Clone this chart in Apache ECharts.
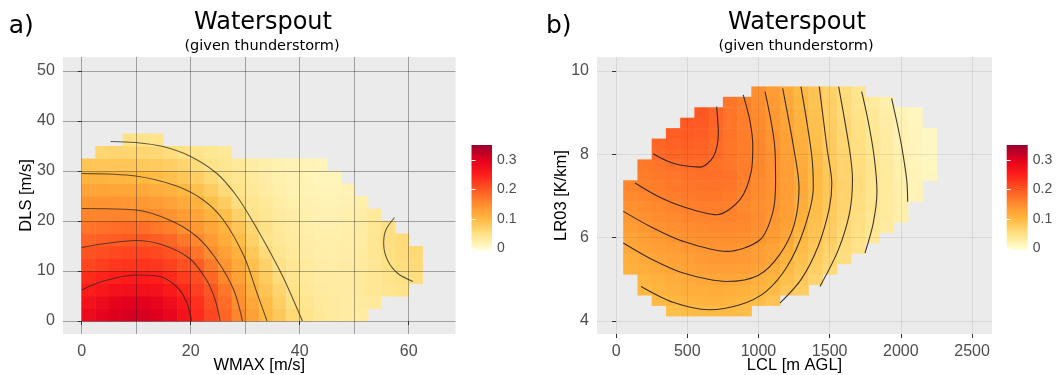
<!DOCTYPE html>
<html>
<head>
<meta charset="utf-8">
<script src="https://cdn.jsdelivr.net/npm/echarts@6/dist/echarts.min.js"></script>
<style>
  html, body { margin: 0; background: #fff; }
  #chart { width: 1060px; height: 375px; }
</style>
</head>
<body>
<div id="chart"></div>
<script>
const n = null;

// panel a: cell centres (WMAX, DLS) and probability
const wmaxCells = [1.25, 3.75, 6.25, 8.75, 11.25, 13.75, 16.25, 18.75, 21.25, 23.75, 26.25, 28.75, 31.25,
  33.75, 36.25, 38.75, 41.25, 43.75, 46.25, 48.75, 51.25, 53.75, 56.25, 58.75, 61.25];
const dlsCells = [1.25, 3.75, 6.25, 8.75, 11.25, 13.75, 16.25, 18.75, 21.25, 23.75, 26.25, 28.75, 31.25, 33.75, 36.25];
const probA = [
  [0.285,0.295,0.303,0.308,0.308,0.302,0.29,0.268,0.24,0.215,0.187,0.156,0.127,0.1,0.08,0.06,0.045,0.037,0.032,0.03,0.03,n,n,n,n],
  [0.27,0.282,0.293,0.298,0.298,0.292,0.278,0.258,0.234,0.208,0.18,0.148,0.118,0.094,0.072,0.053,0.042,0.035,0.032,0.031,0.032,0.035,n,n,n],
  [0.253,0.262,0.27,0.274,0.274,0.27,0.258,0.242,0.221,0.2,0.17,0.14,0.109,0.085,0.065,0.047,0.037,0.032,0.03,0.031,0.034,0.038,0.042,0.046,n],
  [0.238,0.245,0.25,0.255,0.256,0.252,0.24,0.224,0.208,0.185,0.154,0.126,0.1,0.077,0.056,0.043,0.035,0.031,0.03,0.031,0.034,0.039,0.044,0.049,0.053],
  [0.215,0.222,0.228,0.231,0.231,0.228,0.219,0.206,0.194,0.167,0.14,0.116,0.091,0.069,0.048,0.038,0.032,0.028,0.027,0.029,0.033,0.039,0.048,0.054,0.058],
  [0.204,0.21,0.214,0.217,0.217,0.213,0.204,0.192,0.173,0.149,0.127,0.106,0.082,0.058,0.043,0.035,0.029,0.026,0.025,0.027,0.032,0.04,0.051,0.057,0.06],
  [0.188,0.193,0.196,0.198,0.198,0.194,0.185,0.17,0.155,0.134,0.114,0.094,0.07,0.047,0.038,0.032,0.027,0.024,0.024,0.026,0.031,0.04,0.052,0.057,n],
  [0.172,0.176,0.179,0.18,0.177,0.17,0.162,0.147,0.136,0.12,0.104,0.084,0.064,0.048,0.037,0.03,0.025,0.022,0.022,0.024,0.029,0.038,0.05,n,n],
  [0.157,0.157,0.157,0.157,0.153,0.149,0.142,0.132,0.122,0.107,0.092,0.069,0.047,0.04,0.033,0.027,0.023,0.02,0.02,0.022,0.027,0.035,n,n,n],
  [0.141,0.141,0.14,0.139,0.136,0.131,0.125,0.116,0.107,0.092,0.076,0.054,0.043,0.036,0.028,0.023,0.02,0.018,0.018,0.02,0.024,n,n,n,n],
  [0.123,0.122,0.121,0.12,0.117,0.112,0.107,0.1,0.09,0.076,0.059,0.045,0.037,0.03,0.024,0.02,0.018,0.016,0.016,0.018,n,n,n,n,n],
  [0.105,0.104,0.103,0.101,0.099,0.096,0.09,0.082,0.073,0.06,0.047,0.04,0.033,0.027,0.022,0.019,0.017,0.015,0.015,n,n,n,n,n,n],
  [0.083,0.084,0.084,0.083,0.081,0.078,0.072,0.065,0.055,0.047,0.041,0.035,0.029,0.025,0.021,0.018,0.016,0.014,n,n,n,n,n,n,n],
  [n,0.063,0.066,0.065,0.064,0.062,0.055,0.049,0.045,0.04,0.036,n,n,n,n,n,n,n,n,n,n,n,n,n,n],
  [n,n,n,0.048,0.047,0.045,n,n,n,n,n,n,n,n,n,n,n,n,n,n,n,n,n,n,n]
];

// panel a contour lines (WMAX, DLS)
const contA25 = [[0,6.2],[3.7,7.9],[9.9,9.2],[14.3,8.9],[17.4,6.9],[19.2,3.9],[20.2,0]];
const contA20 = [[0,14.7],[3.7,15.4],[9.9,16.1],[14.9,15.2],[19.8,12.5],[22.9,8.2],[24.5,4.2],[25.4,0]];
const contA15 = [[0,22.5],[9.9,22.2],[16.1,20.2],[21.1,16.9],[24.8,12.2],[27.9,6.2],[29.5,0]];
const contA10 = [[0,29.5],[9.9,29],[17.4,27],[22.3,24.2],[26,20.2],[29.8,12.9],[32.2,5.5],[34.0,0]];
const contA05 = [[5.3,35.9],[9.9,35.7],[14.9,34.9],[19.8,33],[24.8,29.5],[28.5,24.9],[31.6,19.5],[34.7,13.5],[37.2,8.2],[40.5,0]];
const contA05b = [[57.4,20.7],[55.8,18.2],[55.4,15.5],[56.1,12.2],[58,9.5],[60.8,7.9]];

// panel b: cell centres (LCL, LR03) and probability
const lclCells = [100,200,300,400,500,600,700,800,900,1000,1100,1200,1300,1400,1500,1600,1700,1800,1900,2000,2100,2200];
const lr03Cells = [4.25,4.5,4.75,5.0,5.25,5.5,5.75,6.0,6.25,6.5,6.75,7.0,7.25,7.5,7.75,8.0,8.25,8.5,8.75,9.0,9.25,9.5];
const probB = [
  [n,n,n,0.092,0.095,0.098,0.098,0.097,0.094,n,n,n,n,n,n,n,n,n,n,n,n,n],
  [n,n,0.097,0.101,0.104,0.106,0.106,0.104,0.101,0.094,0.086,n,n,n,n,n,n,n,n,n,n,n],
  [n,0.099,0.104,0.108,0.111,0.113,0.114,0.113,0.108,0.103,0.096,0.084,0.075,n,n,n,n,n,n,n,n,n],
  [n,0.103,0.108,0.112,0.116,0.118,0.12,0.121,0.117,0.109,0.102,0.091,0.08,0.067,n,n,n,n,n,n,n,n],
  [0.108,0.113,0.117,0.12,0.124,0.127,0.129,0.129,0.127,0.123,0.112,0.098,0.085,0.072,0.059,n,n,n,n,n,n,n],
  [0.113,0.118,0.122,0.126,0.13,0.134,0.136,0.137,0.135,0.13,0.123,0.105,0.09,0.077,0.064,0.054,n,n,n,n,n,n],
  [0.119,0.124,0.128,0.132,0.136,0.139,0.141,0.141,0.137,0.13,0.124,0.113,0.095,0.082,0.068,0.056,0.046,n,n,n,n,n],
  [0.123,0.128,0.134,0.139,0.142,0.145,0.147,0.147,0.145,0.141,0.131,0.121,0.099,0.085,0.072,0.059,0.048,0.038,n,n,n,n],
  [0.132,0.137,0.142,0.146,0.15,0.153,0.155,0.155,0.152,0.145,0.135,0.124,0.106,0.089,0.074,0.061,0.05,0.04,0.032,n,n,n],
  [0.138,0.144,0.149,0.153,0.156,0.158,0.159,0.159,0.156,0.149,0.138,0.127,0.11,0.091,0.077,0.064,0.052,0.041,0.033,0.025,n,n],
  [0.144,0.149,0.154,0.158,0.161,0.163,0.164,0.16,0.153,0.147,0.14,0.128,0.113,0.094,0.08,0.066,0.054,0.042,0.033,0.025,n,n],
  [0.152,0.156,0.16,0.164,0.167,0.169,0.169,0.166,0.158,0.15,0.141,0.129,0.115,0.096,0.081,0.067,0.054,0.043,0.033,0.024,0.017,n],
  [0.157,0.161,0.165,0.169,0.172,0.174,0.174,0.171,0.161,0.151,0.142,0.13,0.117,0.097,0.082,0.068,0.055,0.043,0.033,0.024,0.017,n],
  [n,0.165,0.168,0.172,0.175,0.177,0.177,0.174,0.163,0.153,0.142,0.13,0.115,0.097,0.081,0.067,0.055,0.043,0.033,0.023,0.016,0.011],
  [n,0.168,0.172,0.177,0.181,0.181,0.175,0.169,0.163,0.154,0.142,0.129,0.114,0.096,0.08,0.067,0.054,0.042,0.032,0.022,0.015,0.01],
  [n,n,0.182,0.186,0.188,0.186,0.18,0.172,0.164,0.155,0.142,0.128,0.112,0.095,0.078,0.066,0.053,0.041,0.031,0.021,0.014,0.009],
  [n,n,0.186,0.19,0.192,0.19,0.18,0.172,0.164,0.154,0.141,0.126,0.11,0.093,0.077,0.064,0.052,0.04,0.03,0.02,0.013,0.009],
  [n,n,n,0.194,0.196,0.194,0.183,0.173,0.164,0.153,0.14,0.124,0.108,0.092,0.076,0.063,0.05,0.039,0.029,0.019,0.013,0.009],
  [n,n,n,n,0.199,0.197,0.185,0.172,0.164,0.152,0.138,0.122,0.106,0.09,0.074,0.061,0.049,0.037,0.027,0.018,0.012,n],
  [n,n,n,n,n,0.2,0.186,0.172,0.162,0.15,0.136,0.12,0.104,0.088,0.073,0.059,0.047,0.036,0.026,0.017,0.011,n],
  [n,n,n,n,n,n,n,0.172,0.161,0.148,0.134,0.118,0.102,0.087,0.072,0.058,0.045,0.034,0.024,n,n,n],
  [n,n,n,n,n,n,n,n,n,0.146,0.132,0.116,0.1,0.085,0.07,0.056,0.043,n,n,n,n,n]
];

// panel b contour lines (LCL, LR03), 0.18 down to 0.02
const contB18 = [[261,8.01],[350,7.85],[449,7.74],[589,7.69],[683,7.94],[718,8.5],[706,9.14]];
const contB16 = [[133,7.31],[300,6.98],[472,6.74],[706,6.55],[870,6.91],[950,7.6],[960,8.2],[940,8.8],[893,9.42]];
const contB14 = [[51,6.63],[250,6.25],[472,5.91],[777,5.67],[1011,5.95],[1100,6.6],[1120,7.3],[1116,8.1],[1046,9.5]];
const contB12 = [[51,5.87],[250,5.48],[472,5.15],[777,4.95],[1000,5.1],[1150,5.6],[1250,6.3],[1285,7.2],[1250,8.1],[1170,9.58]];
const contB10 = [[175,4.83],[400,4.45],[651,4.27],[870,4.39],[1050,4.7],[1200,5.3],[1320,6.2],[1385,7.2],[1373,8.0],[1298,9.62]];
const contB08 = [[1151,4.43],[1300,5.0],[1420,5.8],[1497,6.7],[1515,7.3],[1483,8.1],[1427,9.62]];
const contB06 = [[1432,4.83],[1560,5.7],[1640,6.6],[1660,7.4],[1640,8.1],[1563,9.62]];
const contB04 = [[1748,5.63],[1806,6.35],[1832,7.1],[1812,7.95],[1770,8.8],[1725,9.5]];
const contB02 = [[2048,6.86],[2041,7.38],[2006,8.18],[1970,8.8],[1935,9.34]];

const wmaxTicks = [0, 20, 40, 60];
const wmaxMinor = [10, 30, 50];
const dlsTicks = [0, 10, 20, 30, 40, 50];
const lclTicks = [0, 500, 1000, 1500, 2000, 2500];
const lr03Ticks = [4, 6, 8, 10];
const barTicks = [0, 0.1, 0.2, 0.3];

// fill colours, evenly spread over 0 .. 0.35
const palette = ['#FFFCCF', '#FFE184', '#FFB840', '#FF8C2E', '#FF5722', '#FF1E1A', '#E2001D', '#9B002E'];
const barMin = -0.006, barMax = 0.351;

function cells(xs, ys, rows) {
  const out = [];
  rows.forEach((row, j) => row.forEach((v, i) => {
    if (v != null) out.push([xs[i], ys[j], v]);
  }));
  return out;
}

function heatItem(cw, ch) {
  return function (params, api) {
    const x = api.value(0), y = api.value(1);
    const p0 = api.coord([x - cw / 2, y + ch / 2]);
    const p1 = api.coord([x + cw / 2, y - ch / 2]);
    return {
      type: 'rect',
      shape: { x: p0[0], y: p0[1], width: p1[0] - p0[0] + 0.5, height: p1[1] - p0[1] + 0.5 },
      style: { fill: api.visual('color') }
    };
  };
}

const barGradient = new echarts.graphic.LinearGradient(0, 0, 0, 1,
  palette.map((c, k) => ({ offset: (barMax - k * 0.05) / (barMax - barMin), color: c })).reverse());

function barItem(params, api) {
  const p0 = api.coord([0, barMax]);
  const p1 = api.coord([1, barMin]);
  return {
    type: 'rect',
    shape: { x: p0[0], y: p0[1], width: p1[0] - p0[0], height: p1[1] - p0[1] },
    style: { fill: barGradient }
  };
}

const tickText = { fontFamily: 'Liberation Sans', fontSize: 16, color: '#4D4D4D', formatter: v => String(v) };
const nameText = { fontFamily: 'Liberation Sans', fontSize: 16.5, color: '#000' };

function mainAxis(gridIndex, min, max, ticks, gridColor, name, nameGap, margin) {
  return {
    gridIndex, type: 'value', min, max, name, nameLocation: 'middle', nameGap,
    nameMoveOverlap: false,
    nameTextStyle: nameText, z: 3,
    axisLine: { show: false },
    axisTick: { show: true, length: 4, lineStyle: { color: '#333' }, customValues: ticks },
    axisLabel: Object.assign({ margin, customValues: ticks }, tickText),
    splitLine: { show: true, lineStyle: { color: gridColor, width: 1 } }
  };
}

function barAxis(gridIndex, position, labels) {
  return {
    gridIndex, type: 'value', position, min: barMin, max: barMax, z: 5,
    axisLine: { show: false },
    axisTick: { show: true, inside: true, length: 4, lineStyle: { color: '#fff', width: 1 }, customValues: barTicks },
    axisLabel: { show: labels, margin: 5, fontFamily: 'Liberation Sans', fontSize: 14, color: '#4D4D4D', customValues: barTicks },
    splitLine: { show: false }
  };
}

function contour(axisIndex, data, color) {
  return {
    type: 'line', xAxisIndex: axisIndex, yAxisIndex: axisIndex, data,
    smooth: 0.3, symbol: 'none', silent: true, z: 4,
    lineStyle: { color, width: 1.1 }
  };
}

const gridA = 'rgba(0,0,0,0.32)';
const gridB = 'rgba(0,0,0,0.08)';
const titleFont = '24px "DejaVu Sans"';
const subFont = '14.5px "DejaVu Sans"';
const tagFont = '25px "DejaVu Sans"';

const chart = echarts.init(document.getElementById('chart'));
chart.setOption({
  animation: false,
  backgroundColor: '#fff',
  graphic: [
    { type: 'text', x: 8.8, y: 26, style: { text: 'a)', font: tagFont, fill: '#000', align: 'left', verticalAlign: 'middle' } },
    { type: 'text', x: 263, y: 23, style: { text: 'Waterspout', font: titleFont, fill: '#000', align: 'center', verticalAlign: 'middle' } },
    { type: 'text', x: 262, y: 46.5, style: { text: '(given thunderstorm)', font: subFont, fill: '#000', align: 'center', verticalAlign: 'middle' } },
    { type: 'text', x: 546, y: 26, style: { text: 'b)', font: tagFont, fill: '#000', align: 'left', verticalAlign: 'middle' } },
    { type: 'text', x: 797, y: 23, style: { text: 'Waterspout', font: titleFont, fill: '#000', align: 'center', verticalAlign: 'middle' } },
    { type: 'text', x: 796, y: 46.5, style: { text: '(given thunderstorm)', font: subFont, fill: '#000', align: 'center', verticalAlign: 'middle' } }
  ],
  grid: [
    { left: 62.9, top: 57, width: 392.7, height: 277, show: true, backgroundColor: '#EBEBEB', borderWidth: 0, outerBoundsMode: 'none' },
    { left: 597, top: 57, width: 395, height: 277, show: true, backgroundColor: '#EBEBEB', borderWidth: 0, outerBoundsMode: 'none' },
    { left: 471.5, top: 145, width: 20.5, height: 105, outerBoundsMode: 'none' },
    { left: 1006.7, top: 145, width: 21, height: 105, outerBoundsMode: 'none' }
  ],
  xAxis: [
    mainAxis(0, -3.45, 68.6, wmaxTicks, gridA, 'WMAX [m/s]', 23, 10),
    mainAxis(1, -134, 2640, lclTicks, gridB, 'LCL [m AGL]', 23, 10),
    { gridIndex: 2, type: 'value', min: 0, max: 1, show: false },
    { gridIndex: 3, type: 'value', min: 0, max: 1, show: false },
    {
      gridIndex: 0, type: 'value', min: -3.45, max: 68.6, z: 3,
      axisLine: { show: false },
      axisTick: { show: false, customValues: wmaxMinor },
      axisLabel: { show: false, customValues: wmaxMinor },
      splitLine: { show: true, lineStyle: { color: gridA, width: 1 } }
    }
  ],
  yAxis: [
    mainAxis(0, -2.6, 52.8, dlsTicks, gridA, 'DLS [m/s]', 28, 8),
    mainAxis(1, 3.69, 10.33, lr03Ticks, gridB, 'LR03 [K/km]', 27, 8),
    barAxis(2, 'right', true),
    barAxis(2, 'left', false),
    barAxis(3, 'right', true),
    barAxis(3, 'left', false)
  ],
  visualMap: {
    show: false, type: 'continuous', min: 0, max: 0.35, dimension: 2,
    seriesIndex: [0, 1], inRange: { color: palette }
  },
  series: [
    { type: 'custom', xAxisIndex: 0, yAxisIndex: 0, dimensions: ['x', 'y', 'p'], encode: { x: 0, y: 1 },
      renderItem: heatItem(2.5, 2.5), data: cells(wmaxCells, dlsCells, probA), z: 2, silent: true },
    { type: 'custom', xAxisIndex: 1, yAxisIndex: 1, dimensions: ['x', 'y', 'p'], encode: { x: 0, y: 1 },
      renderItem: heatItem(100, 0.25), data: cells(lclCells, lr03Cells, probB), z: 2, silent: true },
    contour(0, contA25, 'rgba(40,40,40,0.75)'),
    contour(0, contA20, 'rgba(40,40,40,0.75)'),
    contour(0, contA15, 'rgba(40,40,40,0.75)'),
    contour(0, contA10, 'rgba(40,40,40,0.75)'),
    contour(0, contA05, 'rgba(40,40,40,0.75)'),
    contour(0, contA05b, 'rgba(40,40,40,0.75)'),
    contour(1, contB18, 'rgba(25,25,25,0.85)'),
    contour(1, contB16, 'rgba(25,25,25,0.85)'),
    contour(1, contB14, 'rgba(25,25,25,0.85)'),
    contour(1, contB12, 'rgba(25,25,25,0.85)'),
    contour(1, contB10, 'rgba(25,25,25,0.85)'),
    contour(1, contB08, 'rgba(25,25,25,0.85)'),
    contour(1, contB06, 'rgba(25,25,25,0.85)'),
    contour(1, contB04, 'rgba(25,25,25,0.85)'),
    contour(1, contB02, 'rgba(25,25,25,0.85)'),
    { type: 'custom', xAxisIndex: 2, yAxisIndex: 2, renderItem: barItem, data: [[0.5, 0.17]], silent: true, z: 2 },
    { type: 'custom', xAxisIndex: 3, yAxisIndex: 4, renderItem: barItem, data: [[0.5, 0.17]], silent: true, z: 2 }
  ]
});
window.addEventListener('resize', () => chart.resize());
</script>
</body>
</html>
